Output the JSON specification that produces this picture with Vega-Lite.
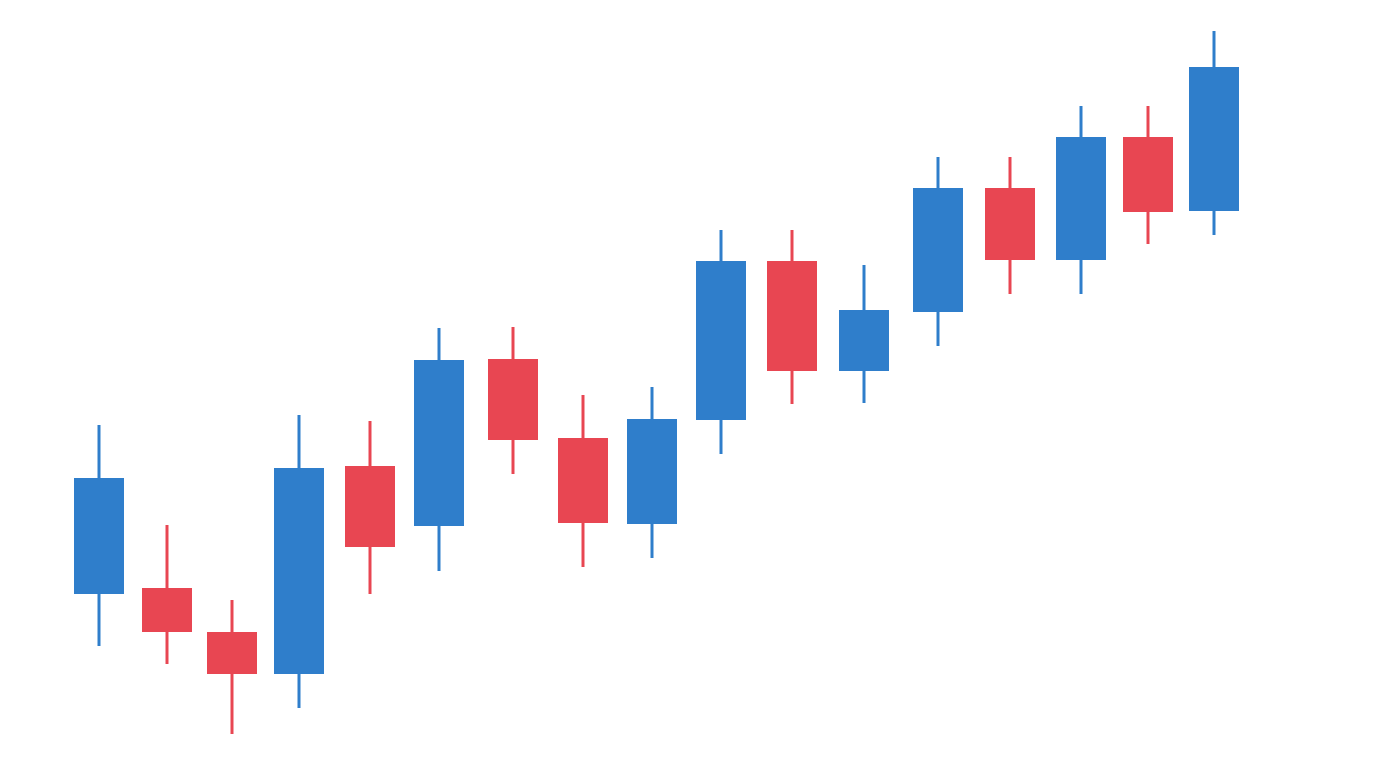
{
  "$schema": "https://vega.github.io/schema/vega-lite/v6.json",
  "autosize": {"type": "fit", "contains": "padding"},
  "width": 1376,
  "height": 768,
  "padding": 0,
  "background": "white",
  "config": {"view": {"stroke": null}},
  "data": {"values": [
    {"t": 99, "open": 174, "high": 343, "low": 122, "close": 290},
    {"t": 167, "open": 180, "high": 243, "low": 104, "close": 136},
    {"t": 232, "open": 136, "high": 168, "low": 34, "close": 94},
    {"t": 299, "open": 94, "high": 353, "low": 60, "close": 300},
    {"t": 370, "open": 302, "high": 347, "low": 174, "close": 221},
    {"t": 439, "open": 242, "high": 440, "low": 197, "close": 408},
    {"t": 513, "open": 409, "high": 441, "low": 294, "close": 328},
    {"t": 583, "open": 330, "high": 373, "low": 201, "close": 245},
    {"t": 652, "open": 244, "high": 381, "low": 210, "close": 349},
    {"t": 721, "open": 348, "high": 538, "low": 314, "close": 507},
    {"t": 792, "open": 507, "high": 538, "low": 364, "close": 397},
    {"t": 864, "open": 397, "high": 503, "low": 365, "close": 458},
    {"t": 938, "open": 456, "high": 611, "low": 422, "close": 580},
    {"t": 1010, "open": 580, "high": 611, "low": 474, "close": 508},
    {"t": 1081, "open": 508, "high": 662, "low": 474, "close": 631},
    {"t": 1148, "open": 631, "high": 662, "low": 524, "close": 556},
    {"t": 1214, "open": 557, "high": 737, "low": 533, "close": 701}
  ]},
  "encoding": {
    "x": {"field": "t", "type": "quantitative", "scale": {"domain": [0, 1376], "nice": false, "zero": false, "padding": 0}, "axis": null},
    "color": {
      "condition": {"test": "datum.open < datum.close", "value": "#2F7ECB"},
      "value": "#E84652"
    }
  },
  "layer": [
    {
      "mark": {"type": "rule", "strokeWidth": 3},
      "encoding": {
        "y": {"field": "low", "type": "quantitative", "scale": {"domain": [0, 768], "nice": false, "zero": false}, "axis": null},
        "y2": {"field": "high"}
      }
    },
    {
      "mark": {"type": "bar", "size": 50},
      "encoding": {
        "y": {"field": "open", "type": "quantitative"},
        "y2": {"field": "close"}
      }
    }
  ]
}
